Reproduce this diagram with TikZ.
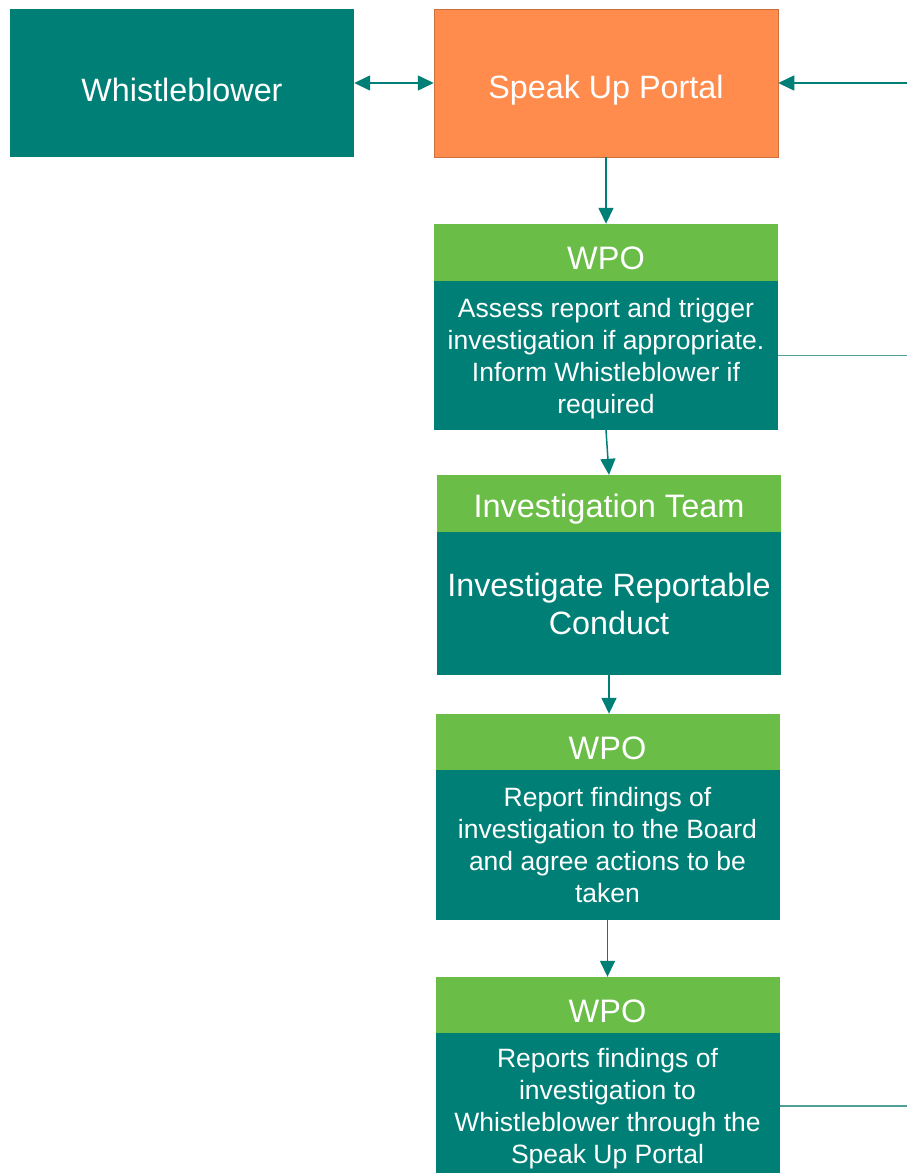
\documentclass[tikz,border=0pt]{standalone}
\usepackage{fontspec}
\setmainfont{Liberation Sans}
\usetikzlibrary{arrows.meta}
\definecolor{teal1}{HTML}{007F77}
\definecolor{green1}{HTML}{6ABD46}
\definecolor{orange1}{HTML}{FF8B4C}
\definecolor{lineteal}{HTML}{4F9F99}
\begin{document}
\begin{tikzpicture}[x=1pt,y=-1pt,
  bigbox/.style={minimum width=344pt,minimum height=148pt,inner sep=0pt},
  headbox/.style={fill=green1,minimum width=344pt,minimum height=57pt,inner sep=0pt},
  bodybox/.style={fill=teal1,minimum width=344pt,inner sep=0pt},
  bigtxt/.style={text=white,align=center,inner sep=0pt,font=\fontsize{32.3}{38}\selectfont},
  headtxt/.style={text=white,align=center,inner sep=0pt,font=\fontsize{32.5}{38}\selectfont},
  bodytxt/.style={text=white,align=center,inner sep=0pt,font=\fontsize{26.5}{32}\selectfont},
  tip/.style={Triangle[length=16pt,width=15pt]},
  conn/.style={draw=teal1,line width=1.5pt,-{Triangle[length=16pt,width=15pt]}},
  plain/.style={draw=lineteal,line width=1.5pt}]
\clip (0,0) rectangle (907,1173);
\useasboundingbox (0,0) rectangle (907,1173);
\fill[white] (0,0) rectangle (907,1173);
% boxes
\node[bigbox,fill=teal1] (wb) at (182,83) {};
\node[bigbox,fill=orange1,draw=orange1!80!black,line width=0.5pt] (portal) at (606,83) {};
\node[headbox] (w1h) at (606,252.5) {};
\node[bodybox,minimum height=149pt] (w1b) at (606,355.5) {};
\node[headbox] (ith) at (609,503.5) {};
\node[bodybox,minimum height=143pt] (itb) at (609,603.5) {};
\node[headbox,minimum height=56pt] (w3h) at (607.5,742) {};
\node[bodybox,minimum height=150pt] (w3b) at (607.5,845) {};
\node[headbox,minimum height=56pt] (w4h) at (607.5,1005) {};
\node[bodybox,minimum height=146pt] (w4b) at (607.5,1106) {};
% texts
\node[bigtxt,yshift=-7pt] (wbt) at (wb.center) {Whistleblower};
\node[bigtxt,yshift=-7pt] (portalt) at (portal.center) {Speak Up Portal};
\node[headtxt,yshift=-6pt] (w1ht) at (w1h.center) {WPO};
\node[bodytxt,yshift=-3pt] (w1bt) at (w1b.center) {Assess report and trigger\\investigation if appropriate.\\Inform Whistleblower if\\required};
\node[headtxt,yshift=-6pt] (itht) at (ith.center) {Investigation Team};
\node[bigtxt] (itbt) at (itb.center) {Investigate Reportable\\Conduct};
\node[headtxt,yshift=-6pt] (w3ht) at (w3h.center) {WPO};
\node[bodytxt,yshift=0pt] (w3bt) at (w3b.center) {Report findings of\\investigation to the Board\\and agree actions to be\\taken};
\node[headtxt,yshift=-6pt] (w4ht) at (w4h.center) {WPO};
\node[bodytxt,yshift=-3pt] (w4bt) at (w4b.center) {Reports findings of\\investigation to\\Whistleblower through the\\Speak Up Portal};
% connectors
\coordinate (rin) at (907,83);
\coordinate (r1) at (907,355.5);
\coordinate (r4) at (907,1106);
\draw[conn,{Triangle[length=16pt,width=15pt]}-{Triangle[length=16pt,width=15pt]}] (wb.east) -- (portal.west);
\draw[conn] (rin) -- (portal.east);
\draw[conn] (portal.south) -- (w1h.north);
\draw[conn] (w1b.south) -- (ith.north);
\draw[conn] (itb.south) -- (itb.south |- w3h.north);
\draw[conn] (w3b.south) -- (w4h.north);
\draw[plain] (w1b.east) -- (r1);
\draw[plain] (w4b.east) -- (r4);
\end{tikzpicture}
\end{document}
